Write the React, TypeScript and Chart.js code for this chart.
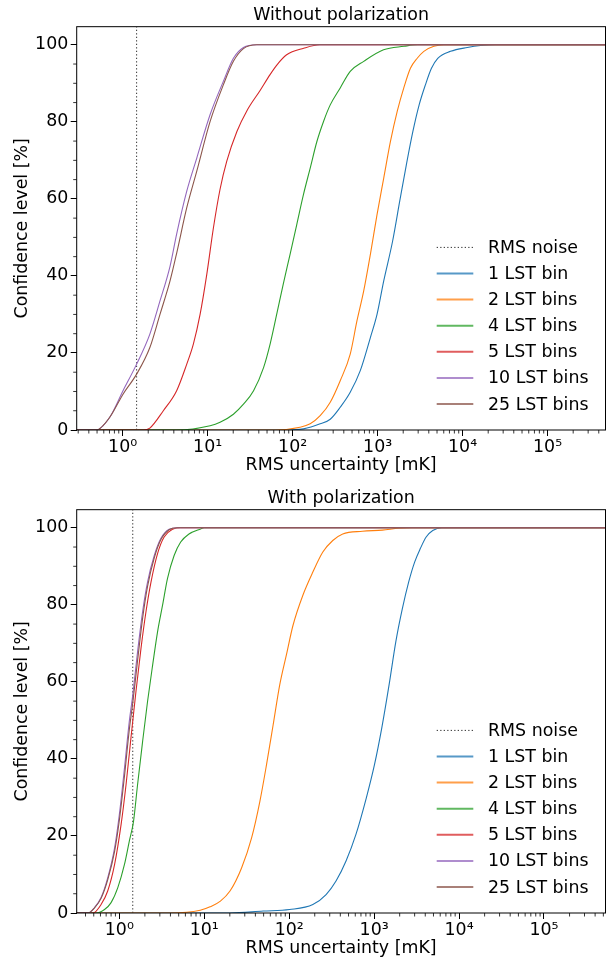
import React, { useEffect, useRef } from 'react';
import { Chart, registerables } from 'chart.js';

Chart.register(...registerables);

const FONT_FAMILY = "'DejaVu Sans', sans-serif";
const FONT_SIZE = 17.4;

const SERIES_LABELS = ['1 LST bin', '2 LST bins', '4 LST bins', '5 LST bins', '10 LST bins', '25 LST bins'];
const SERIES_COLORS = ['#1f77b4', '#ff7f0e', '#2ca02c', '#d62728', '#9467bd', '#8c564b'];
const NOISE_LABEL = 'RMS noise';
const X_AXIS_TITLE = 'RMS uncertainty [mK]';
const Y_AXIS_TITLE = 'Confidence level [%]';
const Y_TICKS = [0, 20, 40, 60, 80, 100];
const X_TICKS = [1, 10, 100, 1000, 10000, 100000];
const Y_MAX = 104.7;

// ---------- Top panel: Without polarization ----------
const TOP_TITLE = 'Without polarization';
const TOP_X_RANGE = [0.288, 4.8e5];
const TOP_NOISE = 1.46;

const TOP_1_X = [0.1, 79, 134, 211, 277, 363, 476, 625, 822, 984, 1180, 1500, 1820, 2180, 2600, 3080, 3650, 4300, 5100, 7211, 11350, 16330, 25000, 1e6];
const TOP_1_Y = [0, 0, 0.3, 1.6, 2.8, 5.9, 9.8, 15.4, 24, 30, 38.7, 49, 59.4, 68.9, 77.5, 84.4, 89.6, 93.9, 96.5, 98.3, 99.3, 99.8, 100, 100];

const TOP_2_X = [0.1, 63, 122, 161, 211, 277, 363, 476, 571, 686, 822, 984, 1180, 1416, 1700, 2032, 2432, 2924, 3500, 4592, 6026, 1e6];
const TOP_2_Y = [0, 0, 0.7, 1.6, 3.7, 7.2, 12.8, 19.7, 28.3, 36.1, 45.6, 55.9, 65.4, 74.9, 82.7, 88.8, 93.9, 96.5, 98.3, 99.6, 100, 100];

const TOP_4_X = [0.1, 4.3, 10.7, 14, 20.1, 26.4, 34.7, 45.5, 54.6, 64.9, 77.8, 93.3, 112, 134, 161, 193, 231, 277, 363, 476, 686, 1175, 2040, 2950, 1e6];
const TOP_4_Y = [0, 0, 1.1, 2, 4.1, 6.7, 10.2, 16.2, 22.5, 30, 38, 45.6, 53.4, 61.1, 68, 74.9, 80.1, 84.4, 88.8, 93.1, 95.7, 98.7, 99.6, 100, 100];

const TOP_5_X = [0.1, 1.75, 2.09, 3.01, 4.32, 5.68, 6.79, 8.15, 9.77, 11.7, 14.0, 16.8, 22.1, 29, 41.6, 54, 65.5, 85, 135, 209, 1e6];
const TOP_5_Y = [0, 0, 0.5, 5, 10.2, 17.1, 22.3, 30, 40.4, 52.5, 62.5, 69.8, 77.5, 82.9, 88.2, 92.2, 94.8, 97.4, 99.1, 100, 100];

const TOP_10_X = [0.1, 0.49, 0.705, 1.01, 1.46, 2.09, 2.75, 3.61, 4.33, 5.68, 7.45, 10.7, 15.3, 20.1, 26.4, 38, 1e6];
const TOP_10_Y = [0, 0, 3.3, 10.2, 17.1, 24.9, 33.5, 42.5, 51, 62, 70.6, 81.9, 90.5, 96.5, 99.3, 100, 100];

const TOP_25_X = [0.1, 0.49, 0.705, 1.01, 1.46, 2.09, 2.75, 3.61, 4.33, 5.68, 7.45, 10.7, 15.3, 20.1, 26.4, 38, 1e6];
const TOP_25_Y = [0, 0, 3.3, 9.3, 14.5, 21.4, 30, 38.7, 46, 57.7, 67.2, 80.1, 89.6, 95.7, 99, 100, 100];

// ---------- Bottom panel: With polarization ----------
const BOT_TITLE = 'With polarization';
const BOT_X_RANGE = [0.315, 5.3e5];
const BOT_NOISE = 1.44;

const BOT_1_X = [0.1, 20, 49.4, 101, 190, 272, 356, 467, 611, 810, 1010, 1230, 1500, 1800, 2150, 2550, 3000, 3500, 4100, 4900, 6295, 1e6];
const BOT_1_Y = [0, 0, 0.5, 0.9, 2.2, 4.8, 8.3, 13.5, 20.4, 29.9, 38.5, 48, 59.2, 70.4, 79, 85.9, 91.1, 94.6, 97.6, 99.3, 100, 100];

const BOT_2_X = [0.1, 4, 8.97, 11.7, 15.5, 20.1, 27.5, 36.1, 45.2, 54.1, 64.7, 77.4, 92.7, 111, 145, 190, 249, 326, 427, 729, 1250, 1960, 2805, 1e6];
const BOT_2_Y = [0, 0, 0.7, 1.6, 3.1, 5.7, 11.7, 19.5, 29, 38.5, 48.8, 59.2, 67, 74.7, 82.5, 88.5, 93.7, 96.7, 98.4, 99.1, 99.4, 99.9, 100, 100];

const BOT_4_X = [0.1, 0.54, 0.67, 0.8, 0.96, 1.15, 1.31, 1.47, 1.64, 1.88, 2.15, 2.47, 2.82, 3.23, 3.69, 4.42, 5.28, 6.61, 9.06, 10, 1e6];
const BOT_4_Y = [0, 0, 0.9, 2.7, 6.6, 12.6, 18.6, 23.8, 33.3, 44.5, 54.9, 64.4, 73, 79.9, 86.8, 92.8, 96.3, 98.4, 99.7, 100, 100];

const BOT_5_X = [0.1, 0.49, 0.61, 0.73, 0.88, 1.05, 1.2, 1.37, 1.57, 1.8, 2.06, 2.36, 2.82, 3.37, 4.23, 5.3, 1e6];
const BOT_5_Y = [0, 0, 2.2, 5.7, 12.6, 23, 33.3, 45.4, 57.5, 68.7, 78.2, 85.9, 93.3, 97.6, 99.6, 100, 100];

const BOT_10_X = [0.1, 0.43, 0.51, 0.61, 0.73, 0.88, 1.0, 1.15, 1.31, 1.44, 1.64, 1.88, 2.15, 2.58, 3.08, 3.86, 4.83, 1e6];
const BOT_10_Y = [0, 0, 1.4, 4, 9.1, 16.9, 25.5, 37.6, 49.7, 56.6, 67.8, 78.2, 85.9, 92.8, 97.2, 99.6, 100, 100];

const BOT_25_X = [0.1, 0.43, 0.51, 0.61, 0.73, 0.88, 1.0, 1.15, 1.31, 1.44, 1.64, 1.88, 2.15, 2.58, 3.08, 3.86, 4.83, 1e6];
const BOT_25_Y = [0, 0, 1.3, 3.8, 8.6, 16, 24, 35.5, 47.5, 54.5, 65.5, 76.5, 84.8, 92.2, 96.9, 99.5, 100, 100];

const TOP_SERIES = [
  [TOP_1_X, TOP_1_Y], [TOP_2_X, TOP_2_Y], [TOP_4_X, TOP_4_Y],
  [TOP_5_X, TOP_5_Y], [TOP_10_X, TOP_10_Y], [TOP_25_X, TOP_25_Y],
];
const BOT_SERIES = [
  [BOT_1_X, BOT_1_Y], [BOT_2_X, BOT_2_Y], [BOT_4_X, BOT_4_Y],
  [BOT_5_X, BOT_5_Y], [BOT_10_X, BOT_10_Y], [BOT_25_X, BOT_25_Y],
];

const SUP: Record<string, string> = { '0': '⁰', '1': '¹', '2': '²', '3': '³', '4': '⁴', '5': '⁵', '6': '⁶', '7': '⁷', '8': '⁸', '9': '⁹', '-': '⁻' };
const sup = (n: number) => String(n).split('').map((c) => SUP[c] || c).join('');

const font = { family: FONT_FAMILY, size: FONT_SIZE, weight: 'normal' as const, lineHeight: 1.2 };

function buildDatasets(series: number[][][], noise: number) {
  const n = series.length;
  const ds: any[] = [
    {
      label: NOISE_LABEL,
      data: [{ x: noise, y: 0 }, { x: noise, y: Y_MAX }],
      borderColor: '#333',
      borderWidth: 1,
      borderDash: [1.3, 2.2],
      pointRadius: 0,
      order: n + 1,
    },
  ];
  series.forEach(([xs, ys], i) => {
    ds.push({
      label: SERIES_LABELS[i],
      data: xs.map((x, j) => ({ x, y: ys[j] })),
      borderColor: SERIES_COLORS[i],
      borderWidth: 1.1,
      pointRadius: 0,
      cubicInterpolationMode: 'monotone',
      order: n - i,
    });
  });
  return ds;
}

const decorPlugin = {
  id: 'mplDecor',
  afterDraw(chart: any) {
    const { ctx, chartArea: a, scales } = chart;
    const xs = scales.x;
    const ys = scales.y;
    ctx.save();
    // minor ticks
    ctx.strokeStyle = '#000';
    ctx.lineWidth = 0.8;
    ctx.beginPath();
    for (let k = -2; k <= 6; k++) {
      for (let m = 2; m <= 9; m++) {
        const v = m * Math.pow(10, k);
        if (v < xs.min || v > xs.max) continue;
        const px = xs.getPixelForValue(v);
        ctx.moveTo(px, a.bottom);
        ctx.lineTo(px, a.bottom + 3.5);
      }
    }
    for (let v = 5; v < ys.max; v += 5) {
      if (v % 20 === 0) continue;
      const py = ys.getPixelForValue(v);
      ctx.moveTo(a.left, py);
      ctx.lineTo(a.left - 3.5, py);
    }
    ctx.stroke();
    // frame
    ctx.lineWidth = 1;
    ctx.strokeRect(a.left, a.top, a.right - a.left, a.bottom - a.top);
    // legend (lower right, no frame)
    const dsets = chart.data.datasets;
    const nRows = dsets.length;
    const rowH = 26.1;
    const x1 = a.right - 168.8;
    const x2 = a.right - 132.2;
    const tx = a.right - 117.5;
    ctx.font = `${FONT_SIZE}px ${FONT_FAMILY}`;
    ctx.textBaseline = 'middle';
    ctx.textAlign = 'left';
    dsets.forEach((d: any, i: number) => {
      const cy = a.bottom - 26 - (nRows - 1 - i) * rowH;
      ctx.save();
      if (d.borderDash) {
        ctx.setLineDash(d.borderDash);
        ctx.lineWidth = 1;
        ctx.globalAlpha = 1;
      } else {
        ctx.setLineDash([]);
        ctx.lineWidth = 2;
        ctx.globalAlpha = 0.75;
      }
      ctx.strokeStyle = d.borderColor;
      ctx.beginPath();
      ctx.moveTo(x1, cy);
      ctx.lineTo(x2, cy);
      ctx.stroke();
      ctx.restore();
      ctx.fillStyle = '#000';
      ctx.fillText(d.label, tx, cy + 1);
    });
    ctx.restore();
  },
};

function Panel({ title, series, noise, xRange, top }: { title: string; series: number[][][]; noise: number; xRange: number[]; top: number }) {
  const ref = useRef<HTMLCanvasElement>(null);
  useEffect(() => {
    const chart = new Chart(ref.current as HTMLCanvasElement, {
      type: 'line',
      data: { datasets: buildDatasets(series, noise) },
      options: {
        animation: false,
        responsive: false,
        devicePixelRatio: 1,
        layout: { padding: { left: 0, right: 7.5, top: 0, bottom: 0 } },
        plugins: {
          legend: { display: false },
          tooltip: { enabled: false },
          title: {
            display: true,
            text: title,
            fullSize: false,
            color: '#000',
            font,
            padding: { top: 5.3, bottom: 0.5 },
          },
        },
        scales: {
          x: {
            type: 'logarithmic',
            min: xRange[0],
            max: xRange[1],
            bounds: 'data',
            afterBuildTicks: (s: any) => {
              s.ticks = X_TICKS.filter((v) => v >= s.min && v <= s.max).map((v) => ({ value: v }));
            },
            afterFit: (s: any) => {
              s.height = 50;
            },
            grid: { display: true, drawOnChartArea: false, drawTicks: true, tickLength: 6, tickColor: '#000', tickWidth: 1 },
            border: { display: false },
            ticks: {
              autoSkip: false,
              maxRotation: 0,
              minRotation: 0,
              color: '#000',
              font,
              padding: 1,
              callback: (v: any) => '10' + sup(Math.round(Math.log10(Number(v)))),
            },
            title: { display: true, text: X_AXIS_TITLE, color: '#000', font, padding: { top: 0, bottom: 3.6 } },
          },
          y: {
            type: 'linear',
            min: 0,
            max: Y_MAX,
            bounds: 'data',
            afterBuildTicks: (s: any) => {
              s.ticks = Y_TICKS.map((v) => ({ value: v }));
            },
            afterFit: (s: any) => {
              s.width = 76.7;
            },
            grid: { display: true, drawOnChartArea: false, drawTicks: true, tickLength: 6, tickColor: '#000', tickWidth: 1 },
            border: { display: false },
            ticks: { color: '#000', font, padding: 2.4, autoSkip: false, callback: (v: any) => String(v) },
            title: { display: true, text: Y_AXIS_TITLE, color: '#000', font, padding: { top: 11.6, bottom: 0 } },
          },
        },
      } as any,
      plugins: [decorPlugin],
    });
    return () => chart.destroy();
  }, []);
  return (
    <canvas
      ref={ref}
      width={613}
      height={480}
      style={{ position: 'absolute', left: 0, top, width: 613, height: 480 }}
    />
  );
}

export default function App() {
  return (
    <div style={{ position: 'absolute', left: 0, top: 0, width: 613, height: 959, overflow: 'hidden', background: '#fff' }}>
      <Panel title={TOP_TITLE} series={TOP_SERIES} noise={TOP_NOISE} xRange={TOP_X_RANGE} top={0} />
      <Panel title={BOT_TITLE} series={BOT_SERIES} noise={BOT_NOISE} xRange={BOT_X_RANGE} top={482.6} />
    </div>
  );
}
